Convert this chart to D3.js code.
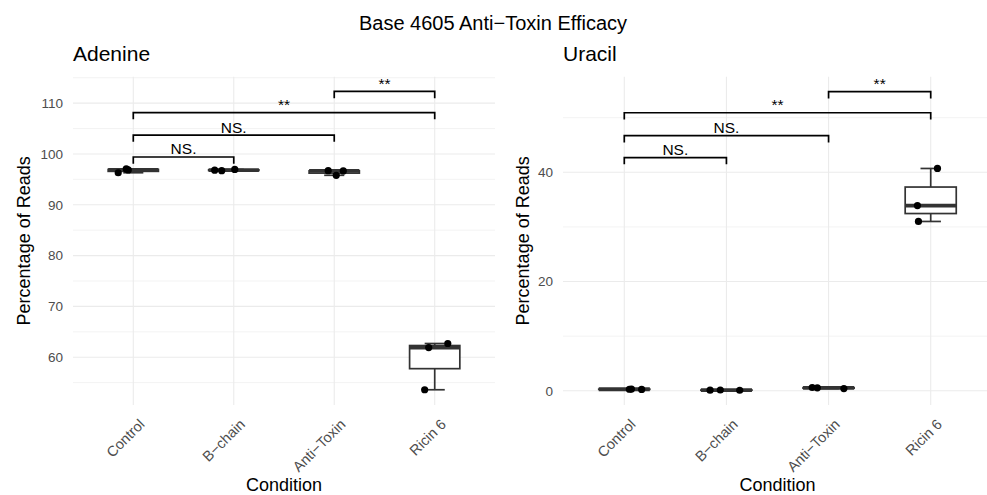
<!DOCTYPE html>
<html lang="en">
<head>
    <meta charset="utf-8">
    <script src="https://d3js.org/d3.v7.min.js"></script>
</head>
<body style="margin:0;background:#fff">
<style>
    text { font-family: "Liberation Sans", Arial, sans-serif; }
    .grid-major { stroke: #ebebeb; stroke-width: 1.1px; }
    .grid-minor { stroke: #ebebeb; stroke-width: 0.6px; }
    .tick-label { fill: #4d4d4d; font-size: 13.5px; }
    .x-label { font-size: 14.5px; }
    .axis-title { fill: #000; font-size: 18px; }
</style>
<svg></svg>
</body>
<script>
    const width = 987;
    const height = 495;

    // data
    const categories = ['Control', 'B\u2212chain', 'Anti\u2212Toxin', 'Ricin 6'];
    const adenineValues = [[96.3, 97.05, 96.85], [96.8, 96.7, 96.95], [96.7, 95.8, 96.65], [62.7, 61.9, 53.6]];
    const adenineJitter = [[-0.15, -0.07, -0.05], [-0.19, -0.12, 0.01], [-0.06, 0.02, 0.09], [0.13, -0.06, -0.1]];
    const uracilValues = [[0.32, 0.28, 0.25], [0.12, 0.15, 0.1], [0.6, 0.55, 0.4], [40.7, 33.9, 31.0]];
    const uracilJitter = [[0.07, 0.05, 0.17], [-0.16, -0.06, 0.13], [-0.16, -0.11, 0.15], [0.066, -0.13, -0.12]];
    const comparisons = [[0, 1], [0, 2], [0, 3], [2, 3]];
    const signifLabels = ['NS.', 'NS.', '**', '**'];
    const adenineBracketY = [99.4, 103.7, 108.15, 112.3];
    const uracilBracketY = [42.7, 46.7, 50.9, 54.75];
    const adenineTicks = [60, 70, 80, 90, 100, 110];
    const adenineMinor = [55, 65, 75, 85, 95, 105, 115];
    const uracilTicks = [0, 20, 40];
    const uracilMinor = [10, 30, 50];
    const adenineDomain = [50.6, 115.2];
    const uracilDomain = [-2.6, 57.5];

    const svg = d3.select('svg').attr('width', width).attr('height', height);

    svg.append('text')
        .attr('x', 493).attr('y', 30)
        .attr('text-anchor', 'middle')
        .style('font-size', '20px')
        .text('Base 4605 Anti\u2212Toxin Efficacy');

    const panelTop = 76.7, panelBottom = 405;

    const drawPanel = (opt) => {
        const g = svg.append('g');
        const x = d3.scalePoint().domain(categories).range([opt.left, opt.right]).padding(0.6);
        const y = d3.scaleLinear().domain(opt.domain).range([panelBottom, panelTop]);

        // grid
        g.selectAll('.minor').data(opt.minor).enter().append('line')
            .attr('class', 'grid-minor')
            .attr('x1', opt.left).attr('x2', opt.right)
            .attr('y1', d => y(d)).attr('y2', d => y(d));
        g.selectAll('.major').data(opt.ticks).enter().append('line')
            .attr('class', 'grid-major')
            .attr('x1', opt.left).attr('x2', opt.right)
            .attr('y1', d => y(d)).attr('y2', d => y(d));
        g.selectAll('.vgrid').data(categories).enter().append('line')
            .attr('class', 'grid-major')
            .attr('x1', d => x(d)).attr('x2', d => x(d))
            .attr('y1', panelTop).attr('y2', panelBottom);

        // y tick labels
        g.selectAll('.ylab').data(opt.ticks).enter().append('text')
            .attr('class', 'tick-label')
            .attr('x', opt.left - 10).attr('y', d => y(d))
            .attr('dy', '0.36em')
            .attr('text-anchor', 'end')
            .text(d => d);

        // x tick labels rotated
        g.selectAll('.xlab').data(categories).enter().append('text')
            .attr('class', 'tick-label x-label')
            .attr('transform', d => `translate(${x(d) + 5},${panelBottom + 13}) rotate(-45)`)
            .attr('text-anchor', 'end')
            .attr('dy', '0.7em')
            .text(d => d);

        // titles
        svg.append('text')
            .attr('x', opt.left).attr('y', 61)
            .style('font-size', '21px')
            .text(opt.title);
        svg.append('text')
            .attr('class', 'axis-title')
            .attr('transform', `translate(${opt.ytitleX},${(panelTop + panelBottom) / 2}) rotate(-90)`)
            .attr('text-anchor', 'middle')
            .text('Percentage of Reads');
        svg.append('text')
            .attr('class', 'axis-title')
            .attr('x', (opt.left + opt.right) / 2).attr('y', 491)
            .attr('text-anchor', 'middle')
            .text('Condition');

        const step = x.step();
        const stats = opt.values.map((vals, i) => {
            const s = vals.slice().sort(d3.ascending);
            const q1 = d3.quantile(s, 0.25), med = d3.quantile(s, 0.5), q3 = d3.quantile(s, 0.75);
            const iqr = q3 - q1;
            const lo = d3.min(s.filter(v => v >= q1 - 1.5 * iqr));
            const hi = d3.max(s.filter(v => v <= q3 + 1.5 * iqr));
            return {cat: categories[i], q1, med, q3, lo, hi};
        });

        // error bar whiskers
        const eb = g.selectAll('.eb').data(stats).enter().append('g');
        eb.append('line')
            .attr('x1', d => x(d.cat)).attr('x2', d => x(d.cat))
            .attr('y1', d => y(d.lo)).attr('y2', d => y(d.hi))
            .attr('stroke', '#333').attr('stroke-width', 1.7);
        [d => d.lo, d => d.hi].forEach(f => {
            eb.append('line')
                .attr('x1', d => x(d.cat) - step * 0.1).attr('x2', d => x(d.cat) + step * 0.1)
                .attr('y1', d => y(f(d))).attr('y2', d => y(f(d)))
                .attr('stroke', '#333').attr('stroke-width', 1.7);
        });

        // boxes
        const bx = g.selectAll('.box').data(stats).enter().append('g');
        bx.append('rect')
            .attr('x', d => x(d.cat) - step * 0.25).attr('width', step * 0.5)
            .attr('y', d => y(d.q3)).attr('height', d => Math.max(0, y(d.q1) - y(d.q3)))
            .attr('fill', '#fff').attr('stroke', '#333').attr('stroke-width', 1.7);
        bx.append('line')
            .attr('x1', d => x(d.cat) - step * 0.25).attr('x2', d => x(d.cat) + step * 0.25)
            .attr('y1', d => y(d.med)).attr('y2', d => y(d.med))
            .attr('stroke', '#333').attr('stroke-width', 3.8);

        // jittered points
        const pts = [];
        opt.values.forEach((vals, i) => vals.forEach((v, k) => pts.push({cat: categories[i], v, j: opt.jitter[i][k]})));
        g.selectAll('.pt').data(pts).enter().append('circle')
            .attr('cx', d => x(d.cat) + d.j * step)
            .attr('cy', d => y(d.v))
            .attr('r', 3.6)
            .attr('fill', '#000');

        // significance brackets
        const tip = 6.7;
        comparisons.forEach((c, i) => {
            const x1 = x(categories[c[0]]), x2 = x(categories[c[1]]);
            const yy = y(opt.bracketY[i]);
            g.append('path')
                .attr('d', `M${x1},${yy + tip}V${yy}H${x2}V${yy + tip}`)
                .attr('fill', 'none').attr('stroke', '#000').attr('stroke-width', 1.7);
            g.append('text')
                .attr('x', (x1 + x2) / 2).attr('y', yy - 2.5)
                .attr('text-anchor', 'middle')
                .style('font-size', '15.5px')
                .text(signifLabels[i]);
        });
    };

    drawPanel({title: 'Adenine', left: 73, right: 495, domain: adenineDomain, ticks: adenineTicks,
        minor: adenineMinor, values: adenineValues, jitter: adenineJitter, bracketY: adenineBracketY, ytitleX: 30});
    drawPanel({title: 'Uracil', left: 563, right: 992, domain: uracilDomain, ticks: uracilTicks,
        minor: uracilMinor, values: uracilValues, jitter: uracilJitter, bracketY: uracilBracketY, ytitleX: 529});
</script>
</html>
